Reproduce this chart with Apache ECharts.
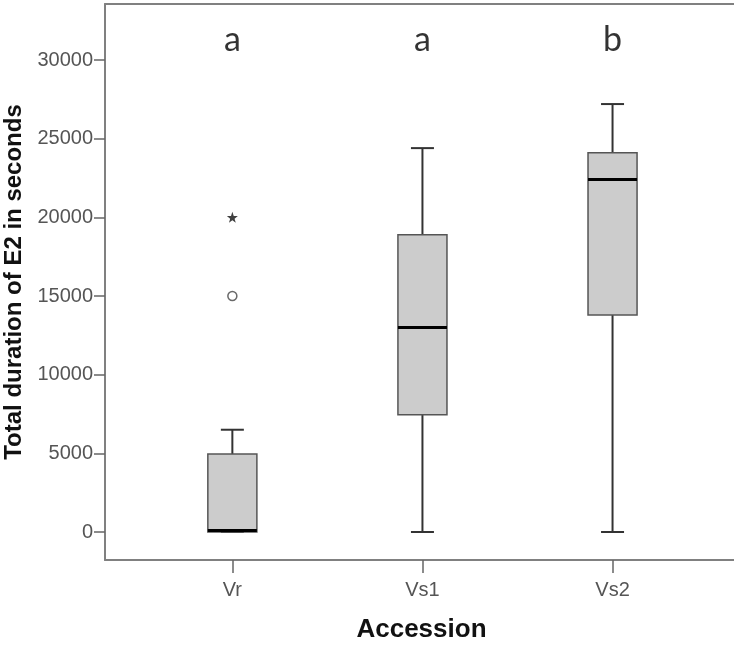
<!DOCTYPE html>
<html>
<head>
<meta charset="utf-8">
<script src="https://cdn.jsdelivr.net/npm/echarts@6/dist/echarts.min.js"></script>
<style>
  html, body { margin: 0; padding: 0; background: #fff; }
  #chart { width: 734px; height: 651px; }
</style>
</head>
<body>
<div id="chart"></div>
<script>
// groups on the x axis (placed at 1, 2, 3)
const categories = ['Vr', 'Vs1', 'Vs2'];
const positions = [1, 2, 3];
// five-number summaries
const whiskerLow = [0, 0, 0];
const q1 = [0, 7450, 13800];
const medians = [100, 13000, 22400];
const q3 = [4950, 18900, 24100];
const whiskerHigh = [6500, 24400, 27200];
// outliers of Vr: circle = outlier, star = extreme
const outliers = [[1, 15000]];
const extremes = [[1, 20000]];
// significance letters
const letters = ['a', 'a', 'b'];
const letterY = 31300;
const yTicks = [0, 5000, 10000, 15000, 20000, 25000, 30000];

const STAR = 'path://M0,-10 L2.35,-3.24 L9.51,-3.09 L3.8,1.24 L5.88,8.09 L0,4 L-5.88,8.09 L-3.8,1.24 L-9.51,-3.09 L-2.35,-3.24 Z';
const SANS = 'Liberation Sans, Arial, sans-serif';

const boxData = positions.map((x, i) => [x, whiskerLow[i], q1[i], medians[i], q3[i], whiskerHigh[i]]);
const letterData = positions.map((x, i) => [x, letterY, letters[i]]);

function renderBox(params, api) {
  const x = api.value(0);
  const low = api.coord([x, api.value(1)]);
  const b1 = api.coord([x, api.value(2)]);
  const med = api.coord([x, api.value(3)]);
  const b3 = api.coord([x, api.value(4)]);
  const high = api.coord([x, api.value(5)]);
  const unit = api.size([1, 0])[0];
  const bw = unit * 0.258;
  const cw = unit * 0.121;
  const cx = low[0];
  const lineStyle = { stroke: '#333', lineWidth: 2 };
  return {
    type: 'group',
    children: [
      { type: 'line', shape: { x1: cx, y1: high[1], x2: cx, y2: b3[1] }, style: lineStyle },
      { type: 'line', shape: { x1: cx, y1: b1[1], x2: cx, y2: low[1] }, style: lineStyle },
      { type: 'line', shape: { x1: cx - cw / 2, y1: high[1], x2: cx + cw / 2, y2: high[1] }, style: lineStyle },
      { type: 'line', shape: { x1: cx - cw / 2, y1: low[1], x2: cx + cw / 2, y2: low[1] }, style: lineStyle },
      {
        type: 'rect',
        shape: { x: cx - bw / 2, y: b3[1], width: bw, height: b1[1] - b3[1] },
        style: { fill: '#cccccc', stroke: '#555', lineWidth: 1.5 }
      },
      { type: 'line', shape: { x1: cx - bw / 2, y1: med[1], x2: cx + bw / 2, y2: med[1] }, style: { stroke: '#000', lineWidth: 3 } }
    ]
  };
}

let chart = echarts.init(document.getElementById('chart'));
chart.setOption({
  backgroundColor: '#fff',
  animation: false,
  grid: { left: 105, top: 4, right: -4, bottom: 91, containLabel: false, outerBoundsMode: 'none' },
  xAxis: [
    {
      type: 'value',
      min: 0.33,
      max: 3.66,
      name: 'Accession',
      nameLocation: 'middle',
      nameGap: 57,
      nameTextStyle: { fontFamily: SANS, fontWeight: 'bold', fontSize: 26, color: '#111' },
      splitLine: { show: false },
      axisLine: { show: true, onZero: false, lineStyle: { color: '#808080', width: 2 } },
      axisTick: { show: true, length: 13, customValues: positions, lineStyle: { color: '#666', width: 1.5 } },
      axisLabel: {
        customValues: positions,
        margin: 20,
        fontFamily: SANS,
        fontSize: 20,
        color: '#555',
        formatter: v => categories[positions.indexOf(v)] || ''
      }
    },
    {
      type: 'value',
      position: 'top',
      min: 0.33,
      max: 3.66,
      splitLine: { show: false },
      axisLine: { show: true, onZero: false, lineStyle: { color: '#808080', width: 2 } },
      axisTick: { show: false },
      axisLabel: { show: false }
    }
  ],
  yAxis: {
    type: 'value',
    min: -1780,
    max: 33560,
    name: 'Total duration of E2 in seconds',
    nameLocation: 'middle',
    nameGap: 49,
    nameTextStyle: { fontFamily: SANS, fontWeight: 'bold', fontSize: 24, color: '#111' },
    splitLine: { show: false },
    axisLine: { show: true, onZero: false, lineStyle: { color: '#808080', width: 2 } },
    axisTick: { show: true, length: 11, customValues: yTicks, lineStyle: { color: '#666', width: 1.5 } },
    axisLabel: {
      customValues: yTicks,
      margin: 12,
      fontFamily: SANS,
      fontSize: 20,
      color: '#555',
      formatter: v => String(v)
    }
  },
  series: [
    {
      type: 'custom',
      renderItem: renderBox,
      encode: { x: 0, y: [1, 2, 3, 4, 5] },
      data: boxData
    },
    {
      type: 'scatter',
      symbol: 'circle',
      symbolSize: 9,
      itemStyle: { color: '#fff', borderColor: '#444', borderWidth: 1.5 },
      data: outliers
    },
    {
      type: 'scatter',
      symbol: STAR,
      symbolSize: 11,
      itemStyle: { color: '#111' },
      data: extremes
    },
    {
      type: 'scatter',
      symbolSize: 0,
      silent: true,
      data: letterData,
      label: {
        show: true,
        position: 'inside',
        formatter: p => p.value[2],
        fontFamily: 'Lato, "Open Sans", sans-serif',
        fontSize: 34,
        color: '#000'
      }
    }
  ]
});
window.onresize = chart.resize;
</script>
</body>
</html>
